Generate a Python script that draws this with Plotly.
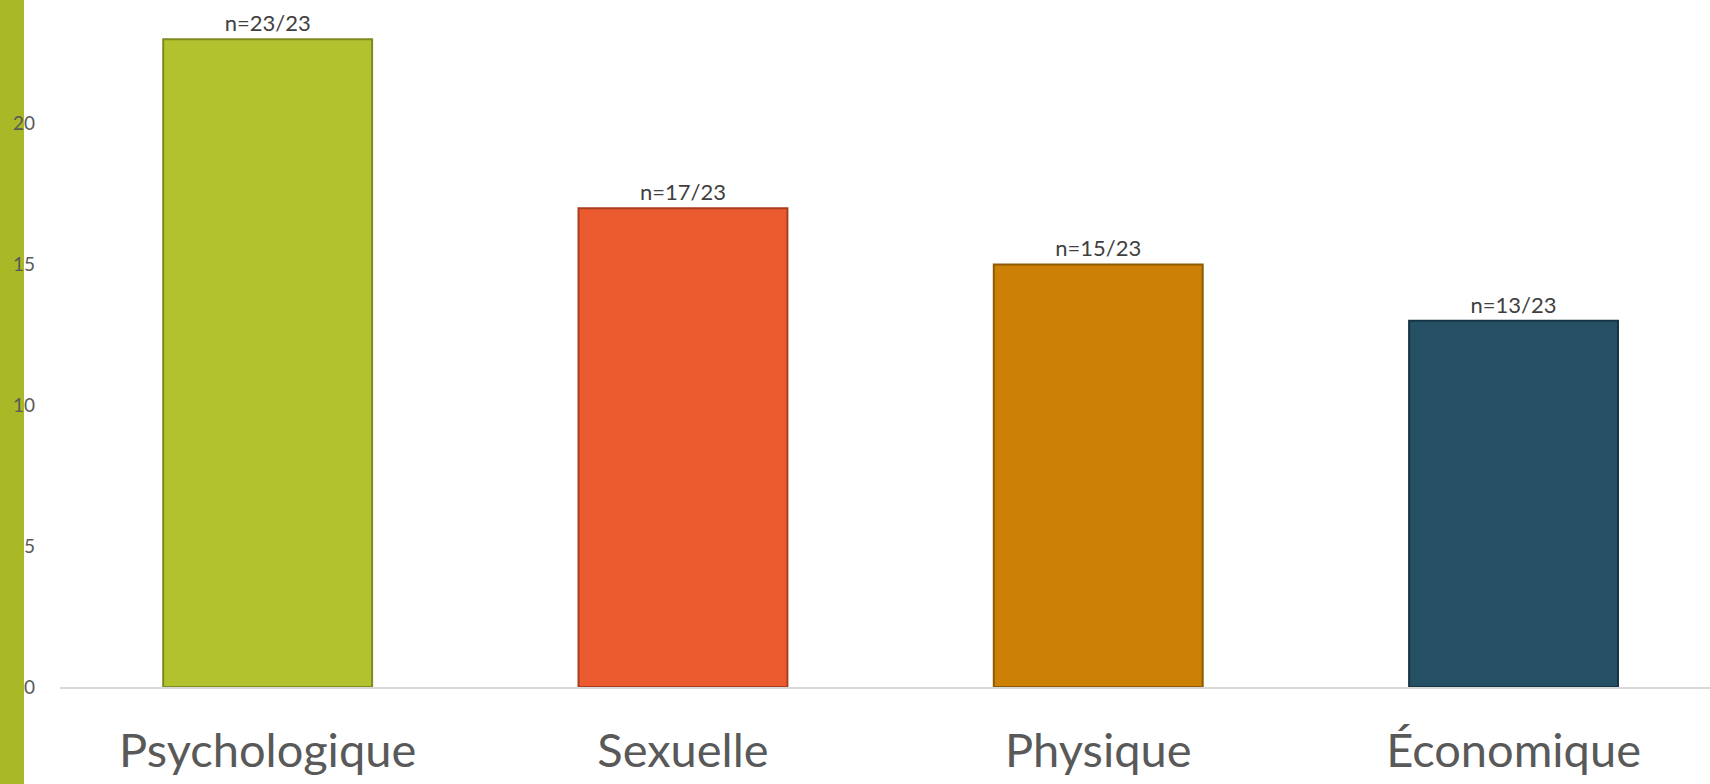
import plotly.graph_objects as go

categories = ["Psychologique", "Sexuelle", "Physique", "Économique"]
values = [23, 17, 15, 13]
total = 23
bar_colors = ["#B2C22E", "#EC5A2F", "#CC8005", "#254F63"]
edge_colors = ["#7E8A1E", "#A83E1E", "#8E5A04", "#173645"]
tick_vals = [0, 5, 10, 15, 20]

labels = [f"n={v}/{total}" for v in values]

W, H = 1710, 784
ml, mr, mt, mb = 60, 0, 0, 97
pw = W - ml - mr
ph = H - mt - mb

fig = go.Figure()
fig.add_trace(go.Bar(
    x=categories,
    y=values,
    text=labels,
    textposition="outside",
    cliponaxis=False,
    textfont=dict(family="Lato, Open Sans, sans-serif", size=22, color="#404040"),
    marker=dict(color=bar_colors, line=dict(color=edge_colors, width=2)),
    width=0.503,
    hoverinfo="skip",
))

fig.add_shape(type="rect", xref="paper", yref="paper",
              x0=-ml / pw, x1=-(ml - 24) / pw, y0=-mb / ph, y1=1.0,
              fillcolor="#A9B827", line=dict(width=0), layer="below")

fig.update_layout(
    width=W, height=H,
    margin=dict(l=ml, r=mr, t=mt, b=mb, pad=0),
    paper_bgcolor="white", plot_bgcolor="white",
    showlegend=False,
    xaxis=dict(
        range=[-0.5, -0.5 + pw / 415.3],
        showgrid=False, zeroline=False,
        showline=True, linecolor="#D9D9D9", linewidth=2,
        ticks="", ticklabelstandoff=22,
        tickfont=dict(family="Lato, Open Sans, sans-serif", size=47, color="#595959"),
    ),
    yaxis=dict(
        range=[0, 24.39],
        tickvals=tick_vals,
        showgrid=False, zeroline=False, showline=False,
        ticks="", ticklabelstandoff=24,
        tickfont=dict(family="Lato, Open Sans, sans-serif", size=19, color="#595959"),
    ),
)

fig.write_html("out.html", config={"displayModeBar": False},
               post_script="document.body.style.margin='0';document.body.style.overflow='hidden';")
